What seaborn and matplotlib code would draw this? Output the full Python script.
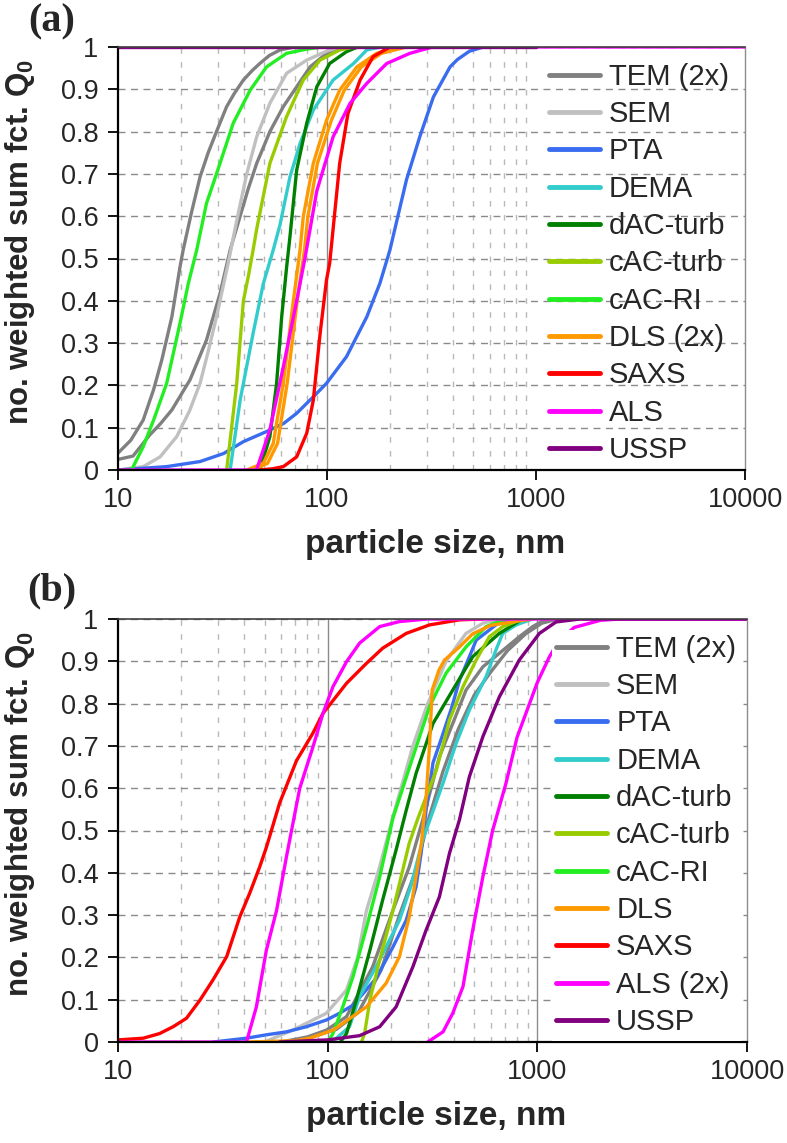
import matplotlib
matplotlib.use('Agg')
import matplotlib.pyplot as plt
import numpy as np
import pandas as pd
import seaborn as sns
from matplotlib.ticker import FixedLocator, NullFormatter

# ---- panel (a) data: particle size (nm) and Q0 ----
a_tem1_x = [10, 11.5, 13.2, 14.8, 16.2, 18.1, 19.8, 20.5, 22.5, 24.7, 27, 29.6, 33.1, 36, 39.8, 44, 47.7, 53, 59.6, 70]
a_tem1_y = [0.04, 0.07, 0.118, 0.19, 0.26, 0.362, 0.48, 0.52, 0.61, 0.693, 0.75, 0.80, 0.859, 0.89, 0.922, 0.945, 0.961, 0.98, 0.993, 1.0]
a_tem2_x = [10, 11.8, 14.2, 16, 18.1, 22.1, 26.5, 30.8, 34.4, 38.4, 42, 46.1, 53.3, 61.8, 71.6, 83, 99.5, 120]
a_tem2_y = [0.025, 0.033, 0.083, 0.11, 0.142, 0.213, 0.307, 0.418, 0.52, 0.6, 0.665, 0.725, 0.80, 0.859, 0.906, 0.953, 0.985, 1.0]
a_sem_x = [10, 13.2, 15.9, 19.1, 22, 24.7, 27, 29.6, 33.7, 37, 41.3, 46.1, 53.3, 64.1, 80, 99.5, 115]
a_sem_y = [0, 0.008, 0.031, 0.079, 0.14, 0.205, 0.28, 0.362, 0.49, 0.59, 0.70, 0.788, 0.867, 0.938, 0.969, 0.99, 1.0]
a_pta_x = [10, 17.1, 24.7, 32, 39.8, 51.4, 62, 71.6, 86, 99.5, 124, 155, 179, 200, 240, 278, 323, 388, 420, 480, 560]
a_pta_y = [0, 0.008, 0.02, 0.039, 0.067, 0.091, 0.11, 0.134, 0.173, 0.205, 0.268, 0.362, 0.441, 0.52, 0.686, 0.788, 0.882, 0.953, 0.97, 0.99, 1.0]
a_dema_x = [34.4, 38.4, 44.3, 49.6, 55.3, 59.6, 66.5, 74.3, 86, 107, 134, 155, 180]
a_dema_y = [0, 0.165, 0.323, 0.441, 0.52, 0.58, 0.693, 0.772, 0.851, 0.922, 0.961, 0.993, 1.0]
a_dac_x = [47.7, 53.3, 57.4, 60.7, 64.1, 66.5, 71.6, 80, 89.4, 103, 124, 140]
a_dac_y = [0, 0.079, 0.205, 0.362, 0.48, 0.552, 0.709, 0.82, 0.906, 0.961, 0.989, 1.0]
a_cacturb_x = [33.1, 37, 39.8, 42, 44.3, 46.1, 53.3, 64, 77, 92.7, 115, 135]
a_cacturb_y = [0, 0.205, 0.40, 0.457, 0.52, 0.57, 0.725, 0.835, 0.922, 0.969, 0.993, 1.0]
a_cacri_x = [10, 11.6, 13.2, 14.8, 17.1, 19.8, 21.7, 23.8, 26.5, 29.6, 35.6, 42.9, 51.4, 64, 80, 95]
a_cacri_y = [0, 0, 0.055, 0.118, 0.205, 0.347, 0.441, 0.52, 0.63, 0.70, 0.82, 0.898, 0.953, 0.985, 0.995, 1.0]
a_dls1_x = [41.3, 49.6, 55.3, 61.8, 69, 74.3, 77, 86, 99.5, 115, 139, 173, 220]
a_dls1_y = [0, 0.016, 0.063, 0.205, 0.40, 0.52, 0.599, 0.725, 0.827, 0.898, 0.953, 0.985, 1.0]
a_dls2_x = [44, 52, 58, 64.5, 72, 78, 81, 90, 105, 121, 146, 182, 240]
a_dls2_y = [0, 0.016, 0.063, 0.205, 0.40, 0.52, 0.599, 0.725, 0.827, 0.898, 0.953, 0.985, 1.0]
a_saxs_x = [47.7, 55, 61.8, 71.6, 80, 86, 92.7, 99.5, 103, 115, 126, 144, 166, 200]
a_saxs_y = [0, 0.003, 0.008, 0.031, 0.087, 0.165, 0.323, 0.45, 0.489, 0.725, 0.843, 0.922, 0.977, 1.0]
a_als_x = [10, 46, 53.3, 61.8, 71.6, 78.4, 89.4, 107, 129, 155, 193, 249, 320, 10000]
a_als_y = [0, 0, 0.095, 0.244, 0.40, 0.50, 0.66, 0.788, 0.867, 0.914, 0.961, 0.985, 1.0, 1.0]
a_ussp_x = [10, 1000]
a_ussp_y = [1.0, 1.0]

# ---- panel (b) data ----
b_tem1_x = [60, 80, 98.6, 123, 164, 205, 245, 284, 341, 395, 457, 550, 659, 820, 950, 1100]
b_tem1_y = [0, 0.012, 0.028, 0.06, 0.178, 0.312, 0.414, 0.525, 0.674, 0.753, 0.832, 0.887, 0.919, 0.958, 0.982, 1.0]
b_tem2_x = [70, 110, 140, 180, 220, 265, 300, 355, 420, 500, 600, 720, 880, 1050, 1250]
b_tem2_y = [0, 0.03, 0.07, 0.17, 0.3, 0.41, 0.52, 0.64, 0.74, 0.82, 0.875, 0.925, 0.965, 0.99, 1.0]
b_sem_x = [50, 68, 98.6, 123, 139, 153, 177, 205, 255, 300, 367, 410, 457, 550, 650]
b_sem_y = [0, 0.028, 0.068, 0.123, 0.2, 0.31, 0.414, 0.533, 0.70, 0.80, 0.90, 0.934, 0.966, 0.99, 1.0]
b_pta_x = [28.4, 41, 51, 63.6, 79, 98.6, 114, 132, 170, 205, 237, 264, 279, 295, 318, 350, 390, 426, 460, 511, 650, 800]
b_pta_y = [0, 0.009, 0.017, 0.024, 0.036, 0.052, 0.068, 0.087, 0.15, 0.225, 0.288, 0.367, 0.446, 0.55, 0.66, 0.72, 0.79, 0.856, 0.895, 0.95, 0.99, 1.0]
b_dema_x = [105, 127, 142, 177, 220, 250, 284, 355, 410, 474, 570, 635, 684, 792, 950]
b_dema_y = [0, 0.036, 0.107, 0.194, 0.288, 0.37, 0.478, 0.612, 0.706, 0.785, 0.864, 0.927, 0.966, 0.986, 1.0]
b_dac_x = [115, 123, 137, 159, 183, 212, 237, 264, 318, 395, 492, 659, 850]
b_dac_y = [0, 0.02, 0.099, 0.217, 0.336, 0.454, 0.548, 0.635, 0.753, 0.832, 0.911, 0.966, 1.0]
b_cacturb_x = [145, 150, 159, 177, 205, 245, 270, 330, 381, 442, 511, 590, 684, 850]
b_cacturb_y = [0, 0.02, 0.099, 0.194, 0.312, 0.47, 0.53, 0.643, 0.761, 0.84, 0.903, 0.958, 0.982, 1.0]
b_cacri_x = [100, 106, 118, 132, 153, 177, 205, 255, 306, 367, 457, 570, 700]
b_cacri_y = [0, 0.02, 0.083, 0.154, 0.27, 0.39, 0.53, 0.674, 0.793, 0.872, 0.934, 0.982, 1.0]
b_dls_x = [41, 70, 82, 106, 153, 190, 220, 245, 264, 280, 295, 306, 315, 340, 361, 425, 492, 600, 800, 950]
b_dls_y = [0, 0.003, 0.009, 0.028, 0.083, 0.139, 0.202, 0.296, 0.391, 0.47, 0.58, 0.7, 0.832, 0.88, 0.903, 0.934, 0.965, 0.985, 0.995, 1.0]
b_saxs_x = [10, 13.2, 15.8, 18.3, 21.2, 24.6, 28.4, 33, 38.1, 42.5, 47.4, 51, 59, 71, 85, 95, 123, 153, 183, 237, 306, 425, 550]
b_saxs_y = [0.005, 0.009, 0.02, 0.036, 0.056, 0.099, 0.147, 0.202, 0.296, 0.352, 0.414, 0.46, 0.565, 0.665, 0.73, 0.777, 0.848, 0.895, 0.931, 0.966, 0.986, 0.998, 1.0]
b_als1_x = [10, 41, 45.7, 51, 57, 63.6, 73.6, 85, 95, 106, 123, 142, 177, 220, 300, 10000]
b_als1_y = [0, 0, 0.083, 0.217, 0.31, 0.438, 0.60, 0.697, 0.777, 0.84, 0.899, 0.943, 0.982, 0.994, 1.0, 1.0]
b_als2_x = [300, 355, 395, 442, 492, 550, 612, 709, 800, 1000, 1140, 1272, 1500, 2000, 2500, 10000]
b_als2_y = [0, 0.024, 0.068, 0.131, 0.265, 0.391, 0.5, 0.612, 0.72, 0.85, 0.91, 0.95, 0.98, 0.997, 1.0, 1.0]
b_ussp_x = [59, 100, 142, 177, 212, 255, 295, 341, 381, 425, 474, 550, 659, 820, 1023, 1228, 1600, 10000]
b_ussp_y = [0, 0.005, 0.015, 0.036, 0.083, 0.178, 0.265, 0.343, 0.446, 0.525, 0.627, 0.722, 0.816, 0.903, 0.966, 0.993, 1.0, 1.0]

names_a = ['TEM (2x)', 'SEM', 'PTA', 'DEMA', 'dAC-turb', 'cAC-turb', 'cAC-RI', 'DLS (2x)', 'SAXS', 'ALS', 'USSP']
names_b = ['TEM (2x)', 'SEM', 'PTA', 'DEMA', 'dAC-turb', 'cAC-turb', 'cAC-RI', 'DLS', 'SAXS', 'ALS (2x)', 'USSP']
colors = ['#808080', '#c0c0c0', '#3a6cf0', '#33cccc', '#008000', '#99cc00',
          '#22ee22', '#ff9900', '#ff0000', '#ff00ff', '#800080']

# minor dashed verticals and solid verticals in each panel
minor_x = [20, 30, 40, 50, 60, 70, 80, 90, 200, 300, 400, 500, 600, 700, 800, 900]
solid_x_a = [100]
solid_x_b = [100, 1000]

curves_a = [('TEM (2x)', a_tem1_x, a_tem1_y), ('TEM (2x)', a_tem2_x, a_tem2_y),
            ('SEM', a_sem_x, a_sem_y), ('PTA', a_pta_x, a_pta_y),
            ('DEMA', a_dema_x, a_dema_y), ('dAC-turb', a_dac_x, a_dac_y),
            ('cAC-turb', a_cacturb_x, a_cacturb_y), ('cAC-RI', a_cacri_x, a_cacri_y),
            ('DLS (2x)', a_dls1_x, a_dls1_y), ('DLS (2x)', a_dls2_x, a_dls2_y),
            ('SAXS', a_saxs_x, a_saxs_y), ('ALS', a_als_x, a_als_y),
            ('USSP', a_ussp_x, a_ussp_y)]
curves_b = [('TEM (2x)', b_tem1_x, b_tem1_y), ('TEM (2x)', b_tem2_x, b_tem2_y),
            ('SEM', b_sem_x, b_sem_y), ('PTA', b_pta_x, b_pta_y),
            ('DEMA', b_dema_x, b_dema_y), ('dAC-turb', b_dac_x, b_dac_y),
            ('cAC-turb', b_cacturb_x, b_cacturb_y), ('cAC-RI', b_cacri_x, b_cacri_y),
            ('DLS', b_dls_x, b_dls_y), ('SAXS', b_saxs_x, b_saxs_y),
            ('ALS (2x)', b_als1_x, b_als1_y), ('ALS (2x)', b_als2_x, b_als2_y),
            ('USSP', b_ussp_x, b_ussp_y)]

sns.set_style('white')
plt.rcParams['font.family'] = ['Liberation Sans', 'DejaVu Sans']
plt.rcParams['mathtext.fontset'] = 'custom'
plt.rcParams['mathtext.rm'] = 'Liberation Sans'
plt.rcParams['mathtext.bf'] = 'Liberation Sans:bold'

W, H = 787, 1143


def make_frame(curves):
    rows = []
    for run, (name, xs, ys) in enumerate(curves):
        for x, y in zip(xs, ys):
            rows.append((name, run, x, y))
    return pd.DataFrame(rows, columns=['method', 'run', 'size', 'q0'])


def draw_panel(ax, curves, names, solid_x, leg_x, white_legend):
    df = make_frame(curves)
    ax.set_xscale('log')
    pal = dict(zip(names, colors))
    sns.lineplot(data=df, x='size', y='q0', hue='method', hue_order=names,
                 units='run', estimator=None, sort=False, palette=pal,
                 lw=2.4, ax=ax)

    ax.set_xlim(10, 10000)
    ax.set_ylim(0, 1)
    ax.set_yticks(np.arange(0, 1.01, 0.1))
    ax.set_yticklabels(['0'] + ['%.1f' % v for v in np.arange(0.1, 0.95, 0.1)] + ['1'])
    ax.xaxis.set_major_locator(FixedLocator([10, 100, 1000, 10000]))
    ax.set_xticklabels(['10', '100', '1000', '10000'])
    ax.xaxis.set_minor_locator(FixedLocator(minor_x))
    ax.xaxis.set_minor_formatter(NullFormatter())

    # grid
    ax.set_axisbelow(True)
    ax.yaxis.grid(True, which='major', ls=(0, (5, 4)), color='#8a8a8a', lw=1)
    ax.xaxis.grid(True, which='minor', ls=(0, (4, 6)), color='#b8b8b8', lw=1)
    for v in solid_x:
        ax.axvline(v, color='#8c8c8c', lw=1, zorder=0.5)

    ax.tick_params(axis='both', which='major', direction='out', length=7,
                   width=1.3, color='black', labelsize=19.5, bottom=True, left=True)
    ax.tick_params(axis='y', pad=7)
    ax.tick_params(axis='x', pad=5)
    ax.tick_params(axis='x', which='minor', length=0)

    for side in ['left', 'bottom']:
        ax.spines[side].set_color('black')
        ax.spines[side].set_linewidth(1.6)
    ax.spines['top'].set_color('#404040')
    ax.spines['top'].set_linewidth(1.2)
    ax.spines['right'].set_color('#8c8c8c')
    ax.spines['right'].set_linewidth(1.0)

    ax.set_xlabel('particle size, nm', fontsize=24, fontweight='bold', va='center')
    ax.set_ylabel(r'no. weighted sum fct. Q$_\mathbf{0}$', fontsize=22.5,
                  fontweight='bold', va='center')
    ax.xaxis.set_label_coords(0.506, -0.177)
    ax.yaxis.set_label_coords(-0.156, 0.539)

    handles, labels = ax.get_legend_handles_labels()
    ax.get_legend().remove()
    for h in handles:
        h.set_linewidth(3.5)
    leg = ax.legend(handles, labels, loc='upper left', bbox_to_anchor=(leg_x, 0.973),
                    fontsize=21, handlelength=1.75, handletextpad=0.3,
                    labelspacing=0.32, borderaxespad=0, borderpad=0.15,
                    frameon=white_legend, fancybox=False, framealpha=1,
                    facecolor='white', edgecolor='none')
    leg.set_zorder(5)


fig = plt.figure(figsize=(W / 100, H / 100), dpi=100)
ax_a = fig.add_axes([118 / W, 1 - 470 / H, 627 / W, 423 / H])
ax_b = fig.add_axes([118 / W, 1 - 1042 / H, 629 / W, 423 / H])

draw_panel(ax_a, curves_a, names_a, solid_x_a, 0.68, False)
draw_panel(ax_b, curves_b, names_b, solid_x_b, 0.69, True)

fig.text(52 / W, 1 - 22 / H, '(a)', family='Liberation Serif', fontweight='bold',
         fontsize=29, ha='center', va='center')
fig.text(52 / W, 1 - 591 / H, '(b)', family='Liberation Serif', fontweight='bold',
         fontsize=29, ha='center', va='center')

fig.savefig('out.png', dpi=100)
